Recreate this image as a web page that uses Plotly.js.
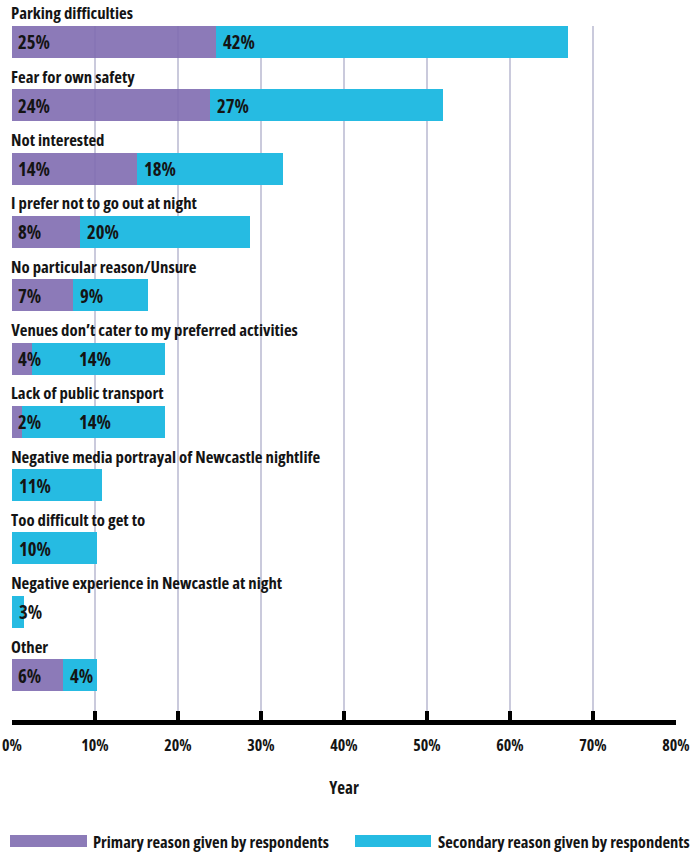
<!DOCTYPE html>
<html>
<head>
<meta charset="utf-8">
<script src="https://cdn.plot.ly/plotly-3.0.1.min.js"></script>
<style>
  html, body { margin: 0; padding: 0; background: #ffffff; }
  #chart { width: 700px; height: 852px; }
</style>
</head>
<body>
<div id="chart"></div>
<script>
const categories = [
  "Parking difficulties",
  "Fear for own safety",
  "Not interested",
  "I prefer not to go out at night",
  "No particular reason/Unsure",
  "Venues don\u2019t cater to my preferred activities",
  "Lack of public transport",
  "Negative media portrayal of Newcastle nightlife",
  "Too difficult to get to",
  "Negative experience in Newcastle at night",
  "Other"
];
const primaryValues   = [24.6, 23.9, 15.0, 8.2, 7.4, 2.4, 1.2, 0, 0, 0, 6.1];
const secondaryValues = [42.4, 28.0, 17.7, 20.5, 9.0, 16.0, 17.2, 10.9, 10.25, 1.45, 4.1];
const primaryLabels   = ["25%", "24%", "14%", "8%", "7%", "4%", "2%", "", "", "", "6%"];
const secondaryLabels = ["42%", "27%", "18%", "20%", "9%", "14%", "14%", "11%", "10%", "3%", "4%"];
const tickValues = [0, 10, 20, 30, 40, 50, 60, 70, 80];
const tickLabels = ["0%", "10%", "20%", "30%", "40%", "50%", "60%", "70%", "80%"];
const seriesNames = ["Primary reason given by respondents", "Secondary reason given by respondents"];

// ---- pick the narrowest installed face (condensed look of the original) ----
function measure(family, stretch, size, txt) {
  const ctx = document.createElement("canvas").getContext("2d");
  ctx.font = "bold " + size + "px " + family;
  if ("fontStretch" in ctx) ctx.fontStretch = stretch;
  return ctx.measureText(txt).width;
}
const candidates = [
  ['"Liberation Sans Narrow"', "normal"],
  ['"Noto Sans"', "extra-condensed"],
  ['"Noto Sans"', "condensed"],
  ['"DejaVu Sans"', "condensed"],
  ['"Open Sans"', "condensed"],
  ['"Roboto"', "condensed"],
  ['"Inter"', "condensed"],
  ['"Liberation Sans"', "normal"]
];
let best = candidates[candidates.length - 1], bestW = Infinity;
candidates.forEach(c => {
  const w = measure(c[0], c[1], 100, "Parking difficulties");
  if (w < bestW - 0.5) { bestW = w; best = c; }
});
const FONT = best[0] + ', "Liberation Sans", sans-serif';
const STRETCH = best[1];
const st = document.createElement("style");
st.textContent = "svg text { font-stretch: " + STRETCH + " !important; }";
document.head.appendChild(st);
function fitSize(txt, targetW, maxSize) {
  const w = measure(FONT, STRETCH, 100, txt) / 100;
  return Math.min(maxSize, targetW / w);
}
const SIZE_CAT = fitSize("Parking difficulties", 122, 17);
const SIZE_VAL = fitSize("25%", 32, 20);
const SIZE_TICK = fitSize("10%", 28, 16);
const SIZE_TITLE = fitSize("Year", 30, 17);
const SIZE_LEG = fitSize("Primary reason given by respondents", 236, 17);

const PURPLE = "rgba(128,108,176,0.9)";
const PURPLE_SOLID = "#8c7bb8";
const CYAN = "#26bbe2";
const TEXT = "#141414";

const traces = [
  {
    type: "bar", orientation: "h", name: seriesNames[0],
    y: categories, x: primaryValues,
    marker: { color: PURPLE, line: { width: 0 } },
    hoverinfo: "skip", showlegend: false
  },
  {
    type: "bar", orientation: "h", name: seriesNames[1],
    y: categories, x: secondaryValues,
    marker: { color: CYAN, line: { width: 0 } },
    hoverinfo: "skip", showlegend: false
  }
];

// label placement rule: when the primary bar is too short to hold its own label,
// the secondary label is pushed clear of it
const CLEAR_X = 7.8;
const annotations = [];
categories.forEach((c, i) => {
  annotations.push({
    x: 0, y: i, xref: "x", yref: "y", text: c, showarrow: false,
    xanchor: "left", yanchor: "middle", xshift: -3, yshift: 29,
    font: { family: FONT, size: SIZE_CAT, color: TEXT, weight: 700 }
  });
  if (primaryLabels[i]) {
    annotations.push({
      x: 0, y: i, xref: "x", yref: "y", text: primaryLabels[i], showarrow: false,
      xanchor: "left", yanchor: "middle", xshift: 4,
      font: { family: FONT, size: SIZE_VAL, color: TEXT, weight: 700 }
    });
  }
  if (secondaryLabels[i]) {
    const crowded = primaryLabels[i] && primaryValues[i] < 5;
    annotations.push({
      x: crowded ? CLEAR_X : primaryValues[i], y: i, xref: "x", yref: "y",
      text: secondaryLabels[i], showarrow: false,
      xanchor: "left", yanchor: "middle", xshift: crowded ? 0 : 5,
      font: { family: FONT, size: SIZE_VAL, color: TEXT, weight: 700 }
    });
  }
});

// Legend drawn manually with wide swatches
const L = 12, PW = 664, T = 26, PH = 694, B = T + PH;
const px = v => (v - L) / PW;
const py = v => (B - v) / PH;
const shapes = [
  { type: "rect", xref: "paper", yref: "paper", x0: px(10), x1: px(87), y0: py(847), y1: py(835),
    fillcolor: PURPLE_SOLID, line: { width: 0 } },
  { type: "rect", xref: "paper", yref: "paper", x0: px(355), x1: px(431), y0: py(847), y1: py(835),
    fillcolor: CYAN, line: { width: 0 } }
];
annotations.push({
  xref: "paper", yref: "paper", x: px(91), y: py(841), text: seriesNames[0], showarrow: false,
  xanchor: "left", yanchor: "middle",
  font: { family: FONT, size: SIZE_LEG, color: TEXT, weight: 700 }
});
annotations.push({
  xref: "paper", yref: "paper", x: px(436), y: py(841), text: seriesNames[1], showarrow: false,
  xanchor: "left", yanchor: "middle",
  font: { family: FONT, size: SIZE_LEG, color: TEXT, weight: 700 }
});

const layout = {
  width: 700, height: 852,
  margin: { l: L, r: 700 - L - PW, t: T, b: 852 - B, pad: 0 },
  paper_bgcolor: "#ffffff", plot_bgcolor: "#ffffff",
  barmode: "stack", bargap: 0.495,
  showlegend: false,
  font: { family: FONT, color: TEXT },
  xaxis: {
    range: [0, 80], autorange: false,
    tickvals: tickValues, ticktext: tickLabels,
    showgrid: true, gridcolor: "#cacadc", gridwidth: 1.5,
    zeroline: false,
    showline: true, linecolor: "#000000", linewidth: 5,
    ticks: "inside", ticklen: 9, tickwidth: 4, tickcolor: "#000000",
    tickfont: { family: FONT, size: SIZE_TICK, color: TEXT, weight: 700 },
    ticklabelstandoff: 7,
    title: { text: "Year", standoff: 28, font: { family: FONT, size: SIZE_TITLE, color: TEXT, weight: 700 } },
    fixedrange: true
  },
  yaxis: {
    type: "category", categoryarray: categories, categoryorder: "array",
    range: [10.71, -0.2525], autorange: false,
    showticklabels: false, showgrid: false, zeroline: false, showline: false, ticks: "",
    fixedrange: true
  },
  shapes: shapes,
  annotations: annotations
};

Plotly.newPlot("chart", traces, layout, { displayModeBar: false, staticPlot: true });
</script>
</body>
</html>
